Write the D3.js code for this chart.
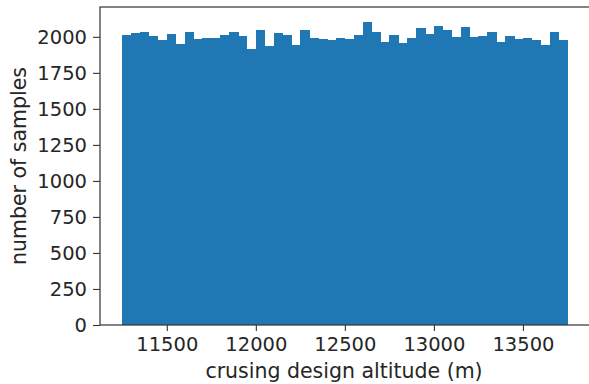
<!DOCTYPE html>
<html>
<head>
<meta charset="utf-8">
<script src="https://cdn.jsdelivr.net/npm/d3@7"></script>
<style>
  html, body { margin: 0; padding: 0; background: #fff; }
  svg { display: block; }
  text { font-family: "DejaVu Sans", sans-serif; fill: #262626; }
</style>
</head>
<body>
<script>
// Histogram bin layout: 50 bins of 50 m from 11250 m to 13750 m
const binStart = 11250;
const binWidth = 50;
const counts = [
  2010, 2028, 2033, 2005, 1979, 2018, 1949, 2036, 1988, 1991,
  1993, 2010, 2037, 2007, 1914, 2044, 1937, 2028, 2011, 1940,
  2044, 1995, 1984, 1977, 1995, 1988, 2014, 2102, 2037, 1963,
  2014, 1956, 1991, 2060, 2021, 2076, 2050, 2002, 2067, 1998,
  2007, 2032, 1963, 2007, 1984, 1991, 1979, 1940, 2032, 1975
];
const xTicks = [11500, 12000, 12500, 13000, 13500];
const yTicks = [0, 250, 500, 750, 1000, 1250, 1500, 1750, 2000];
const xLabel = "crusing design altitude (m)";
const yLabel = "number of samples";

const W = 589, H = 384;
const plot = { left: 100, right: 589.75, top: 7, bottom: 325 };

const bins = counts.map((c, i) => ({
  x0: binStart + i * binWidth,
  x1: binStart + (i + 1) * binWidth,
  count: c
}));

const dataMin = bins[0].x0, dataMax = bins[bins.length - 1].x1;
const xPad = (dataMax - dataMin) * 0.05;
const yMax = d3.max(counts) * 1.05;

const x = d3.scaleLinear().domain([dataMin - xPad, dataMax + xPad]).range([plot.left, plot.right]);
const y = d3.scaleLinear().domain([0, yMax]).range([plot.bottom, plot.top]);

const svg = d3.select("body").append("svg").attr("width", W).attr("height", H);

// bars
svg.append("g")
  .attr("shape-rendering", "crispEdges")
  .selectAll("rect").data(bins).join("rect")
  .attr("x", d => x(d.x0))
  .attr("width", d => x(d.x1) - x(d.x0) + 0.5)
  .attr("y", d => y(d.count))
  .attr("height", d => y(0) - y(d.count))
  .attr("fill", "#1f77b4");

const tickFont = 19.5;
const labelFont = 20.5;

// x axis
const xAxis = svg.append("g")
  .attr("transform", `translate(0,${plot.bottom})`)
  .call(d3.axisBottom(x).tickValues(xTicks).tickFormat(d3.format("d")).tickSizeOuter(0).tickSize(6).tickPadding(6.5));
xAxis.select(".domain").remove();
xAxis.selectAll("line").attr("stroke", "#333").attr("stroke-width", 1.1);
xAxis.selectAll("text").attr("font-size", tickFont).attr("fill", "#262626").attr("font-family", "DejaVu Sans");

// y axis
const yAxis = svg.append("g")
  .attr("transform", `translate(${plot.left},0)`)
  .call(d3.axisLeft(y).tickValues(yTicks).tickFormat(d3.format("d")).tickSizeOuter(0).tickSize(7).tickPadding(6));
yAxis.select(".domain").remove();
yAxis.selectAll("line").attr("stroke", "#333").attr("stroke-width", 1.1);
yAxis.selectAll("text").attr("font-size", tickFont).attr("fill", "#262626").attr("font-family", "DejaVu Sans");

// frame
svg.append("rect")
  .attr("x", plot.left).attr("y", plot.top)
  .attr("width", plot.right - plot.left).attr("height", plot.bottom - plot.top)
  .attr("fill", "none").attr("stroke", "#333").attr("stroke-width", 1.2);

// axis titles
svg.append("text")
  .attr("x", 344)
  .attr("y", 378)
  .attr("text-anchor", "middle")
  .attr("font-size", labelFont)
  .text(xLabel);

svg.append("text")
  .attr("transform", `translate(26,${(plot.top + plot.bottom) / 2}) rotate(-90)`)
  .attr("text-anchor", "middle")
  .attr("font-size", labelFont)
  .text(yLabel);
</script>
</body>
</html>
